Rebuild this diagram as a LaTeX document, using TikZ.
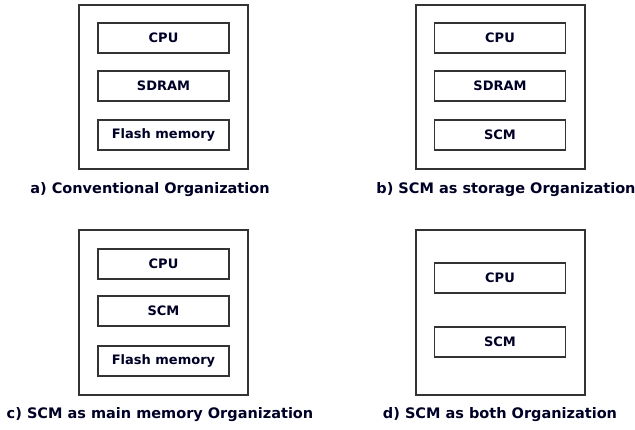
\documentclass[tikz,border=0pt]{standalone}
\usepackage{fontspec}
\setmainfont{DejaVu Sans}
\begin{document}
\begin{tikzpicture}[x=1pt,y=-1pt,
  outer/.style={draw=black!80,line width=1.3pt},
  unit/.style={draw=black!80,line width=1.2pt,minimum width=131pt,minimum height=30pt,inner sep=0pt,font=\bfseries\fontsize{13}{15}\selectfont,text=black!85!blue},
  caption/.style={font=\bfseries\fontsize{14.5}{16}\selectfont,text=black!85!blue,inner sep=0pt}]
\useasboundingbox (0,0) rectangle (635,429);
% a
\draw[outer] (79,5) rectangle (248,169);
\node[unit] (a1) at (163.5,38) {CPU};
\node[unit] (a2) at (163.5,86) {SDRAM};
\node[unit] (a3) at (163.5,135) {Flash memory};
\node[caption] (la) at (150,190) {a) Conventional Organization};
% b
\draw[outer] (416,5) rectangle (585,169);
\node[unit] (b1) at (500,38) {CPU};
\node[unit] (b2) at (500,86) {SDRAM};
\node[unit] (b3) at (500,135) {SCM};
\node[caption] (lb) at (506,190) {b) SCM as storage Organization};
% c
\draw[outer] (79,230) rectangle (248,395);
\node[unit] (c1) at (163.5,264) {CPU};
\node[unit] (c2) at (163.5,311) {SCM};
\node[unit] (c3) at (163.5,361) {Flash memory};
\node[caption] (lc) at (160,415) {c) SCM as main memory Organization};
% d
\draw[outer] (416,230) rectangle (585,395);
\node[unit] (d1) at (500,278) {CPU};
\node[unit] (d2) at (500,342) {SCM};
\node[caption] (ld) at (500,415) {d) SCM as both Organization};
\end{tikzpicture}
\end{document}
